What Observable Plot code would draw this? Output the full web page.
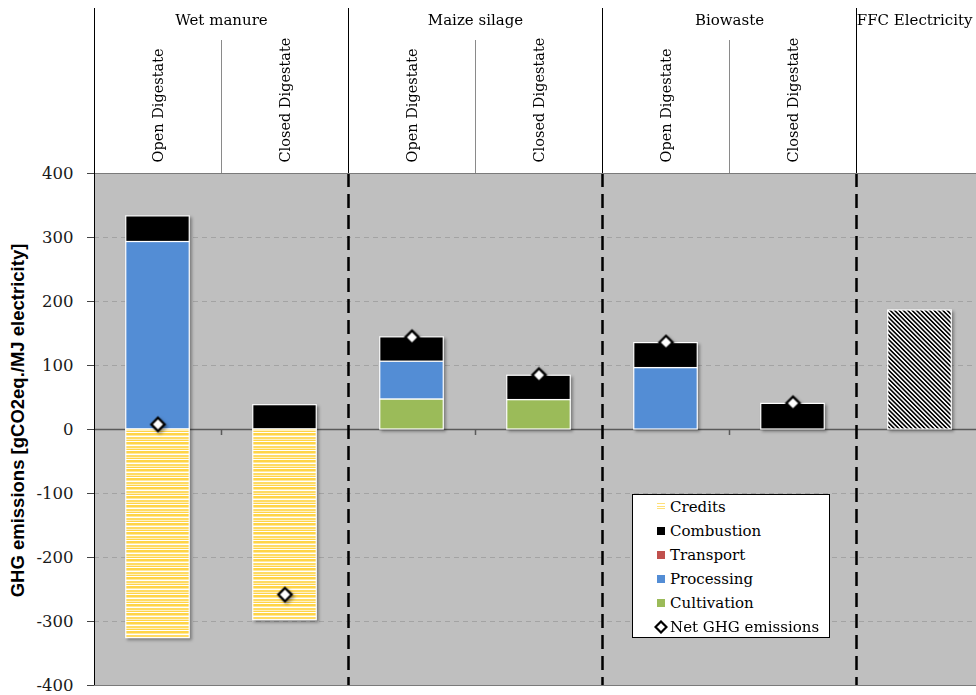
<!DOCTYPE html>
<html>
<head>
<meta charset="utf-8">
<script src="https://cdn.jsdelivr.net/npm/d3@7"></script>
<script src="https://cdn.jsdelivr.net/npm/@observablehq/plot@0.6"></script>
<style>
  body { margin: 0; background: #fff; overflow: hidden; }
  #wrap { position: relative; width: 976px; height: 695px; overflow: hidden; }
  .legend { position: absolute; left: 632px; top: 494px; width: 198px; height: 144px; box-sizing: border-box;
            border: 1px solid #000; background: #fff; font-family: "DejaVu Serif"; font-size: 15px; color: #000; }
  .row { position: relative; height: 24px; }
  .sw { position: absolute; left: 24px; top: 8px; width: 8px; height: 8px; }
  .lbl { position: absolute; left: 37px; top: 0; line-height: 24px; white-space: nowrap; }
</style>
</head>
<body>
<div id="wrap"></div>
<script>
// ---------------- data ----------------
const groups = ["Wet manure", "Maize silage", "Biowaste", "FFC Electricity"];
const groupSpans = [2, 2, 2, 1];
const columns = ["Open Digestate", "Closed Digestate", "Open Digestate", "Closed Digestate", "Open Digestate", "Closed Digestate", ""];
const cultivation    = [0,   0,  47, 46,  0,  0, 0];
const transport      = [0,   0,   0,  0,  0,  0, 0];
const processing     = [293, 0,  59,  0, 96,  0, 0];
const combustion     = [40, 38,  38, 38, 39, 40, 0];
const credits        = [-326, -298, 0, 0, 0, 0, 0];
const ffcElectricity = [0,   0,   0,  0,  0,  0, 186];
const netGHG         = [8, -258, 144, 85, 136, 41, null];
const yTicks = [-400, -300, -200, -100, 0, 100, 200, 300, 400];
const legendItems = ["Credits", "Combustion", "Transport", "Processing", "Cultivation", "Net GHG emissions"];
const yTitle = "GHG emissions [gCO2eq./MJ electricity]";

// ---------------- styling ----------------
const colors = {
  Cultivation: "#9bbb59", Transport: "#c0504d", Processing: "#538dd5", Combustion: "#000000",
  Credits: "url(#creditsPat)", FFC: "url(#hatchPat)"
};
const W = 976, H = 695, MT = 173, MB = 10, ML = 94, COLW = 127;
const FRAME_H = H - MT - MB;

// ---------------- derived tables ----------------
const stackOrder = [["Cultivation", cultivation], ["Transport", transport], ["Processing", processing], ["Combustion", combustion]];
const rows = [];
columns.forEach((c, i) => {
  let cum = 0;
  for (const [k, arr] of stackOrder) {
    if (arr[i] > 0) { rows.push({i, k, y1: cum, y2: cum + arr[i]}); cum += arr[i]; }
  }
  if (credits[i] < 0) rows.push({i, k: "Credits", y1: 0, y2: credits[i]});
  if (ffcElectricity[i] > 0) rows.push({i, k: "FFC", y1: 0, y2: ffcElectricity[i]});
});
const netRows = netGHG.map((v, i) => ({i, v})).filter(d => d.v != null);
const colRows = columns.map((name, i) => ({i, name})).filter(d => d.name);
let acc = 0;
const groupRows = groups.map((name, g) => { const s = acc; acc += groupSpans[g]; return {name, start: s, center: s + groupSpans[g] / 2}; });
const groupStarts = groupRows.map(d => d.start);
const innerGroupBounds = groupStarts.filter(s => s > 0);
const subBounds = d3.range(1, columns.length).filter(b => !groupStarts.includes(b));
const allBounds = d3.range(1, columns.length);
const fullGroups = groupRows.slice(0, -1);   // groups fully inside the picture
const edgeGroup = groupRows.slice(-1);       // last group, cut by the right edge

const shadow = "drop-shadow(2px 2px 1.5px rgba(0,0,0,0.35))";

const chart = Plot.plot({
  width: W, height: H,
  marginTop: MT, marginBottom: MB, marginLeft: ML, marginRight: 0,
  x: {domain: [0, columns.length], range: [ML, ML + columns.length * COLW], axis: null},
  y: {domain: [-400, 400], axis: null},
  color: {type: "identity"},
  style: {fontFamily: "DejaVu Serif", background: "white", color: "#1a1a1a"},
  marks: [
    Plot.frame({fill: "#bfbfbf", stroke: null}),
    Plot.gridY(yTicks, {stroke: "#a3a3a3", strokeOpacity: 1, strokeDasharray: "5,4"}),
    Plot.ruleY([0], {stroke: "#5a5a5a", strokeWidth: 1.5}),
    Plot.ruleX(allBounds, {y1: 0, y2: 0, insetBottom: -6, stroke: "#5a5a5a", strokeWidth: 1.5}),
    Plot.ruleX(innerGroupBounds, {stroke: "#000", strokeWidth: 2.5, strokeDasharray: "14,7"}),
    Plot.rectY(rows, {
      x1: d => d.i + 0.25, x2: d => d.i + 0.75, y1: "y1", y2: "y2",
      fill: d => colors[d.k], stroke: "#fff", strokeWidth: 1.2, imageFilter: shadow
    }),
    Plot.dot(netRows, {
      x: d => d.i + 0.5, y: "v", symbol: "diamond2", r: 6,
      fill: "#fff", stroke: "#000", strokeWidth: 2.3, imageFilter: shadow
    }),
    Plot.frame({stroke: "#7a7a7a", fill: null}),
    // header separators
    Plot.ruleX(groupStarts, {insetTop: -(MT - 8), insetBottom: FRAME_H, stroke: "#000", strokeWidth: 1}),
    Plot.ruleX([0], {insetTop: 0, stroke: "#000", strokeWidth: 1}),
    Plot.ruleX(subBounds, {insetTop: -(MT - 40), insetBottom: FRAME_H, stroke: "#8a8a8a", strokeWidth: 1}),
    // header texts
    Plot.text(fullGroups, {x: "center", text: "name", frameAnchor: "top", dy: -153,
      lineAnchor: "middle", textAnchor: "middle", fontSize: 15, fill: "#000"}),
    Plot.text(edgeGroup, {text: "name", frameAnchor: "top-right", dx: -4, dy: -153,
      lineAnchor: "middle", textAnchor: "end", fontSize: 15, fill: "#000"}),
    Plot.text(colRows, {x: d => d.i + 0.5, text: "name", frameAnchor: "top", dy: -11, rotate: -90,
      textAnchor: "start", lineAnchor: "middle", fontSize: 14.5, fill: "#000"}),
    // y axis
    Plot.axisY(yTicks, {tickSize: 7, tickPadding: 14, tickFormat: d => String(d), fontSize: 16.5,
      label: null, stroke: "#444", fill: "#1a1a1a"}),
    Plot.text([yTitle], {frameAnchor: "left", dx: -76, dy: -9, rotate: -90, textAnchor: "middle", lineAnchor: "middle",
      fontFamily: "Liberation Sans", fontWeight: "bold", fontSize: 18.5, fill: "#000"})
  ]
});

// patterns
const defs = d3.select(chart).insert("defs", ":first-child");
const cp = defs.append("pattern").attr("id", "creditsPat").attr("patternUnits", "userSpaceOnUse")
  .attr("width", 8).attr("height", 9);
[[0, 1, "#ffffff"], [1, 2, "#ffd447"], [3, 1, "#ffe89a"], [4, 1, "#ffffff"], [5, 2, "#ffdb63"], [7, 1, "#fff0bf"], [8, 1, "#ffd447"]]
  .forEach(([y, h, c]) => cp.append("rect").attr("x", 0).attr("y", y).attr("width", 8).attr("height", h).attr("fill", c));
const hp = defs.append("pattern").attr("id", "hatchPat").attr("patternUnits", "userSpaceOnUse")
  .attr("width", 3.1).attr("height", 3.1).attr("patternTransform", "rotate(-45)");
hp.append("rect").attr("width", 3.1).attr("height", 3.1).attr("fill", "#fff");
hp.append("rect").attr("width", 1.6).attr("height", 3.1).attr("fill", "#000");

const wrap = document.getElementById("wrap");
wrap.appendChild(chart);

// legend (inside plot area, as in the reference)
const legend = document.createElement("div");
legend.className = "legend";
const swatchStyle = {
  Credits: "background: repeating-linear-gradient(#ffe07a 0 1px, #ffffff 1px 2.6px);",
  Combustion: "background:#000;", Transport: "background:#c0504d;", Processing: "background:#538dd5;", Cultivation: "background:#9bbb59;"
};
legendItems.forEach(name => {
  const row = document.createElement("div");
  row.className = "row";
  if (swatchStyle[name]) {
    row.innerHTML = `<div class="sw" style="${swatchStyle[name]}"></div><span class="lbl">${name}</span>`;
  } else {
    row.innerHTML = `<svg style="position:absolute;left:21px;top:5px" width="14" height="14"><polygon points="7,1.5 12.5,7 7,12.5 1.5,7" fill="#fff" stroke="#000" stroke-width="2.2"/></svg><span class="lbl">${name}</span>`;
  }
  legend.appendChild(row);
});
wrap.appendChild(legend);
</script>
</body>
</html>
